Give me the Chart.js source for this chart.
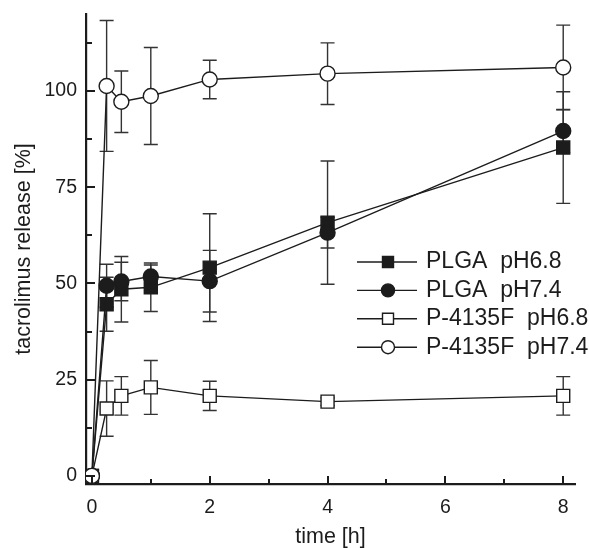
<!DOCTYPE html>
<html><head><meta charset="utf-8">
<script src="https://cdn.jsdelivr.net/npm/chart.js@4/dist/chart.umd.min.js"></script>
<style>html,body{margin:0;padding:0;background:#fff}#wrap{width:589px;height:548px;position:relative}</style>
</head><body><div id="wrap"><canvas id="c"></canvas></div>
<script>
// ---- data ----
const timePoints = [0, 0.25, 0.5, 1, 2, 4, 8];
const seriesLabels = ['PLGA  pH6.8', 'PLGA  pH7.4', 'P-4135F  pH6.8', 'P-4135F  pH7.4'];
const plgaPH68 = [0, 44.6, 48.5, 49.0, 54.1, 65.8, 85.3];
const plgaPH68Err = [0, 7, 8.5, 6.3, 14, 16, 14.5];
const plgaPH74 = [0, 49.4, 50.5, 51.8, 50.6, 63.2, 89.6];
const plgaPH74Err = [0, 5.6, 5, 3, 8, 4, 5.6];
const p4135PH68 = [0, 17.5, 20.8, 23.0, 20.8, 19.3, 20.8];
const p4135PH68Err = [0, 7.2, 5, 7, 3.8, 1, 5];
const p4135PH74 = [0, 101.3, 97.2, 98.7, 103, 104.5, 106.1];
const p4135PH74Err = [0, 17, 8, 12.6, 5, 8, 11];
const xMajorTicks = [0, 2, 4, 6, 8];
const xMinorTicks = [1, 3, 5, 7];
const yMajorTicks = [0, 25, 50, 75, 100];
const yMinorTicks = [12.5, 37.5, 62.5, 87.5, 112.5];
const xTitle = 'time [h]';
const yTitle = 'tacrolimus release [%]';

const seriesValues = [plgaPH68, plgaPH74, p4135PH68, p4135PH74];
const seriesErrors = [plgaPH68Err, plgaPH74Err, p4135PH68Err, p4135PH74Err];
const seriesShapes = ['rect', 'circle', 'rect', 'circle'];
const seriesFilled = [true, true, false, false];

const INK = '#1c1c1c';
const FONT = "'Liberation Sans', Arial, Helvetica, sans-serif";

const datasets = seriesValues.map((vals, i) => ({
  label: seriesLabels[i],
  data: vals.map((v, j) => ({x: timePoints[j], y: v})),
  borderColor: INK,
  borderWidth: 1.4,
  pointStyle: seriesShapes[i],
  pointRadius: seriesShapes[i] === 'rect' ? 9.2 : 7.5,
  pointBorderWidth: 1.4,
  pointBorderColor: INK,
  pointBackgroundColor: seriesFilled[i] ? INK : '#ffffff',
  backgroundColor: seriesFilled[i] ? INK : '#ffffff',
  tension: 0,
  fill: false,
  order: 3 - i
}));

const errorBarPlugin = {
  id: 'errorBars',
  beforeDatasetsDraw(chart) {
    const {ctx, scales: {x, y}} = chart;
    ctx.save();
    ctx.strokeStyle = '#333';
    ctx.lineWidth = 1.4;
    seriesValues.forEach((vals, i) => {
      vals.forEach((v, j) => {
        const e = seriesErrors[i][j];
        if (!e) return;
        const px = x.getPixelForValue(timePoints[j]);
        const top = y.getPixelForValue(v + e);
        const bot = y.getPixelForValue(v - e);
        ctx.beginPath();
        ctx.moveTo(px, top); ctx.lineTo(px, bot);
        ctx.moveTo(px - 7, top); ctx.lineTo(px + 7, top);
        ctx.moveTo(px - 7, bot); ctx.lineTo(px + 7, bot);
        ctx.stroke();
      });
    });
    ctx.restore();
  }
};

const innerTicksPlugin = {
  id: 'innerTicks',
  afterDraw(chart) {
    const {ctx, chartArea: a, scales: {x, y}} = chart;
    ctx.save();
    ctx.strokeStyle = INK;
    ctx.lineWidth = 2;
    ctx.beginPath();
    yMajorTicks.forEach(v => { const p = Math.round(y.getPixelForValue(v)); ctx.moveTo(a.left, p); ctx.lineTo(a.left + 9, p); });
    yMinorTicks.forEach(v => { const p = Math.round(y.getPixelForValue(v)); ctx.moveTo(a.left, p); ctx.lineTo(a.left + 6, p); });
    xMajorTicks.forEach(v => { const p = Math.round(x.getPixelForValue(v)); ctx.moveTo(p, a.bottom); ctx.lineTo(p, a.bottom - 8); });
    xMinorTicks.forEach(v => { const p = Math.round(x.getPixelForValue(v)); ctx.moveTo(p, a.bottom); ctx.lineTo(p, a.bottom - 5); });
    ctx.stroke();
    ctx.restore();
  }
};

const legendPlugin = {
  id: 'lineLegend',
  afterDraw(chart) {
    const {ctx} = chart;
    ctx.save();
    const x0 = 357, x1 = 417, mx = 388, tx = 426, y0 = 262, dy = 28.4;
    chart.data.datasets.forEach((ds, i) => {
      const yy = y0 + i * dy;
      ctx.strokeStyle = INK; ctx.lineWidth = 1.4;
      ctx.beginPath(); ctx.moveTo(x0, yy); ctx.lineTo(x1, yy); ctx.stroke();
      ctx.fillStyle = seriesFilled[i] ? INK : '#fff';
      ctx.beginPath();
      if (seriesShapes[i] === 'rect') { ctx.rect(mx - 5.5, yy - 5.5, 11, 11); }
      else { ctx.arc(mx, yy, 6.5, 0, Math.PI * 2); }
      ctx.fill(); ctx.stroke();
      ctx.fillStyle = INK;
      ctx.font = '23px ' + FONT;
      ctx.textBaseline = 'middle';
      ctx.textAlign = 'left';
      ctx.fillText(ds.label, tx, yy);
    });
    ctx.restore();
  }
};

new Chart(document.getElementById('c'), {
  type: 'line',
  data: {datasets},
  options: {
    responsive: true,
    maintainAspectRatio: false,
    animation: false,
    devicePixelRatio: 1,
    layout: {padding: {top: 14, right: 14, left: 0, bottom: 0}},
    plugins: {legend: {display: false}, tooltip: {enabled: false}},
    scales: {
      x: {
        type: 'linear', min: -0.1, max: 8.2,
        afterBuildTicks: s => { s.ticks = xMajorTicks.map(v => ({value: v})); },
        afterFit: s => { s.height = 64; },
        grid: {display: false},
        border: {display: true, color: INK, width: 2.2},
        ticks: {color: INK, font: {family: FONT, size: 19.5}, padding: 4, autoSkip: false, maxRotation: 0},
        title: {display: true, text: xTitle, color: INK, font: {family: FONT, size: 21.5, lineHeight: 1}, padding: {top: 0, bottom: 0}}
      },
      y: {
        type: 'linear', min: -2.1, max: 120,
        afterBuildTicks: s => { s.ticks = yMajorTicks.map(v => ({value: v})); },
        afterFit: s => { s.width = 86; },
        grid: {display: false},
        border: {display: true, color: INK, width: 2.2},
        ticks: {color: INK, font: {family: FONT, size: 19.5}, padding: 1, autoSkip: false},
        title: {display: true, text: yTitle, color: INK, font: {family: FONT, size: 21.5, lineHeight: 1}, padding: {top: 13, bottom: 0}}
      }
    }
  },
  plugins: [errorBarPlugin, innerTicksPlugin, legendPlugin]
});
</script>
</body></html>
